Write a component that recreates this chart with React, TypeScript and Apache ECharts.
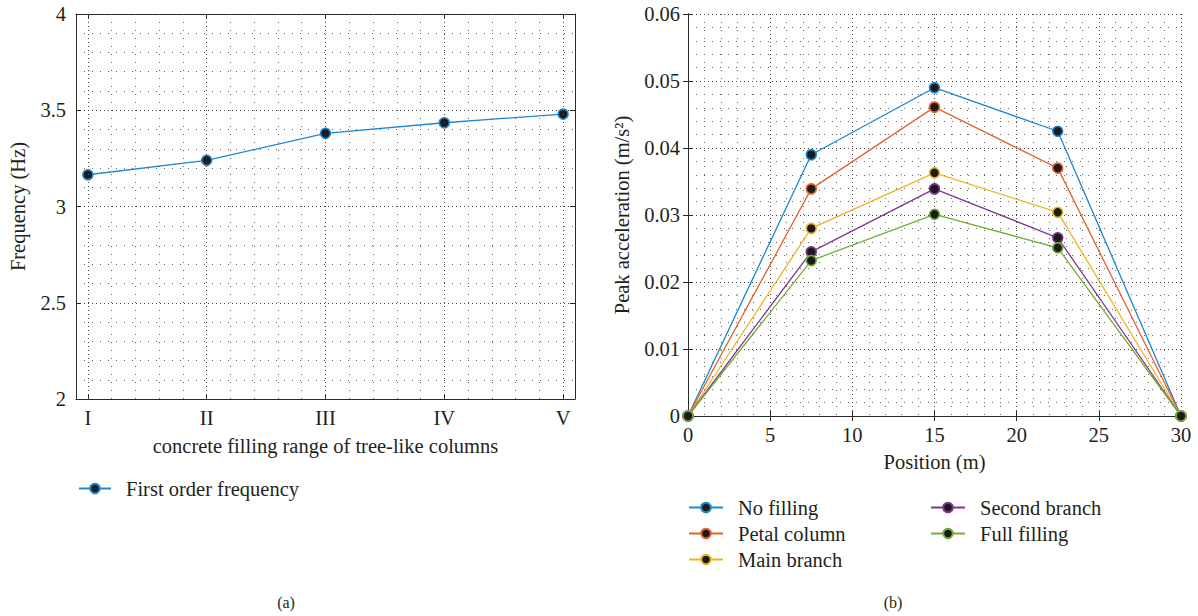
import React, { useEffect, useRef } from "react";
import * as echarts from "echarts";

// ---- Data (a) ----
const categoryPositions = [1, 2, 3, 4, 5];
const categoryLabels = ["I", "II", "III", "IV", "V"];
const firstOrderFrequency = [3.165, 3.24, 3.38, 3.435, 3.48];
const leftMajorGridX = [1, 2, 3, 4, 5];
const leftMinorGridX = [1.2, 1.4, 1.6, 1.8, 2.2, 2.4, 2.6, 2.8, 3.2, 3.4, 3.6, 3.8, 4.2, 4.4, 4.6, 4.8];

// ---- Data (b) ----
const positions = [0, 7.5, 15, 22.5, 30];
const noFilling = [0, 0.039, 0.049, 0.0425, 0];
const petalColumn = [0, 0.0339, 0.0461, 0.037, 0];
const mainBranch = [0, 0.028, 0.0363, 0.0304, 0];
const secondBranch = [0, 0.0245, 0.0339, 0.0266, 0];
const fullFilling = [0, 0.0232, 0.0301, 0.0251, 0];
const seriesNamesB = ["No filling", "Petal column", "Main branch", "Second branch", "Full filling"];
const seriesValuesB = [noFilling, petalColumn, mainBranch, secondBranch, fullFilling];
const seriesColorsB = ["#1f86cf", "#e2622f", "#eeb425", "#803592", "#74ad3a"];

const FONT = "'Liberation Serif', 'DejaVu Serif', serif";
const TEXT = "#231f20";
const AXIS = "#2a2a2a";
const FS = 20.5;
const majorGrid = { color: "#444", width: 1, type: [1, 3] as any };
const minorGrid = { color: "#666", width: 1, type: [1, 7] as any };

export default function App() {
  const ref = useRef<HTMLDivElement>(null);
  useEffect(() => {
    const chart = echarts.init(ref.current!, null, { renderer: "svg" });
    const labelStyle = { color: TEXT, fontFamily: FONT, fontSize: FS };
    const mirrorAxisCommon = {
      axisLine: { show: true, lineStyle: { color: AXIS, width: 1 } },
      axisTick: { show: true, inside: true, length: 5, lineStyle: { color: AXIS } },
      axisLabel: { show: false },
      splitLine: { show: false },
    };
    const marker = (c: string) => ({ color: "#1b1b1b", borderColor: c, borderWidth: 1.6 });

    const option: any = {
      animation: false,
      backgroundColor: "#fff",
      grid: [
        { left: 76, top: 14, width: 499, height: 385 },
        { left: 688, top: 14, width: 493, height: 402 },
      ],
      xAxis: [
        {
          type: "value", gridIndex: 0, min: 0.9, max: 5.1, position: "bottom",
          name: "concrete filling range of tree-like columns",
          nameLocation: "middle", nameGap: 36,
          nameTextStyle: { ...labelStyle },
          axisLine: { show: true, lineStyle: { color: AXIS, width: 1 } },
          axisTick: { show: true, inside: true, length: 5, customValues: categoryPositions, lineStyle: { color: AXIS } },
          axisLabel: {
            ...labelStyle, margin: 8, customValues: categoryPositions,
            formatter: (v: number) => categoryLabels[categoryPositions.indexOf(v)] ?? "",
          },
          splitLine: { show: false },
        },
        {
          type: "value", gridIndex: 0, min: 0.9, max: 5.1, position: "top",
          ...mirrorAxisCommon,
          axisTick: { show: true, inside: true, length: 5, customValues: categoryPositions, lineStyle: { color: AXIS } },
        },
        {
          type: "value", gridIndex: 1, min: 0, max: 30, interval: 5, position: "bottom",
          name: "Position (m)", nameLocation: "middle", nameGap: 35,
          nameTextStyle: { ...labelStyle },
          axisLine: { show: true, lineStyle: { color: AXIS, width: 1 } },
          axisTick: { show: true, inside: true, length: 5, lineStyle: { color: AXIS } },
          axisLabel: { ...labelStyle, margin: 8 },
          splitLine: { show: true, lineStyle: majorGrid },
          minorTick: { show: false, splitNumber: 5 },
          minorSplitLine: { show: true, lineStyle: minorGrid },
        },
        {
          type: "value", gridIndex: 1, min: 0, max: 30, interval: 5, position: "top",
          ...mirrorAxisCommon,
        },
      ],
      yAxis: [
        {
          type: "value", gridIndex: 0, min: 2, max: 4, interval: 0.5, position: "left",
          name: "Frequency (Hz)", nameLocation: "middle", nameGap: 48,
          nameTextStyle: { ...labelStyle },
          axisLine: { show: true, lineStyle: { color: AXIS, width: 1 } },
          axisTick: { show: true, inside: true, length: 5, lineStyle: { color: AXIS } },
          axisLabel: { ...labelStyle, margin: 10 },
          splitLine: { show: true, lineStyle: majorGrid },
          minorTick: { show: false, splitNumber: 5 },
          minorSplitLine: { show: true, lineStyle: minorGrid },
        },
        {
          type: "value", gridIndex: 0, min: 2, max: 4, interval: 0.5, position: "right",
          ...mirrorAxisCommon,
        },
        {
          type: "value", gridIndex: 1, min: 0, max: 0.06, interval: 0.01, position: "left",
          name: "Peak acceleration (m/s²)", nameLocation: "middle", nameGap: 56,
          nameTextStyle: { ...labelStyle },
          axisLine: { show: true, lineStyle: { color: AXIS, width: 1 } },
          axisTick: { show: true, inside: true, length: 5, lineStyle: { color: AXIS } },
          axisLabel: { ...labelStyle, margin: 8 },
          splitLine: { show: true, lineStyle: majorGrid },
          minorTick: { show: false, splitNumber: 5 },
          minorSplitLine: { show: true, lineStyle: minorGrid },
        },
        {
          type: "value", gridIndex: 1, min: 0, max: 0.06, interval: 0.01, position: "right",
          ...mirrorAxisCommon,
        },
      ],
      legend: [
        {
          data: ["First order frequency"], left: 78, top: 478, orient: "vertical", padding: 0,
          itemWidth: 32, itemHeight: 12,
          textStyle: { ...labelStyle, padding: [0, 0, 0, 10] },
        },
        {
          data: seriesNamesB.slice(0, 3), left: 688, top: 497, orient: "vertical", padding: 0,
          itemWidth: 34, itemHeight: 12, itemGap: 5,
          textStyle: { ...labelStyle, padding: [0, 0, 0, 10] },
        },
        {
          data: seriesNamesB.slice(3), left: 930, top: 497, orient: "vertical", padding: 0,
          itemWidth: 34, itemHeight: 12, itemGap: 5,
          textStyle: { ...labelStyle, padding: [0, 0, 0, 10] },
        },
      ],
      graphic: [
        { type: "text", x: 286, y: 602, style: { text: "(a)", font: `16px ${FONT}`, fill: TEXT, textAlign: "center", textVerticalAlign: "middle" } },
        { type: "text", x: 893, y: 602, style: { text: "(b)", font: `16px ${FONT}`, fill: TEXT, textAlign: "center", textVerticalAlign: "middle" } },
      ],
      series: [
        {
          name: "gridA", type: "line", xAxisIndex: 0, yAxisIndex: 0, data: [], z: 0, silent: true,
          markLine: {
            silent: true, symbol: "none", label: { show: false }, animation: false,
            data: [
              ...leftMajorGridX.map((v) => ({ xAxis: v, lineStyle: majorGrid })),
              ...leftMinorGridX.map((v) => ({ xAxis: v, lineStyle: minorGrid })),
            ],
          },
        },
        {
          name: "First order frequency", type: "line", xAxisIndex: 0, yAxisIndex: 0,
          data: categoryPositions.map((x, i) => [x, firstOrderFrequency[i]]),
          symbol: "circle", symbolSize: 10, clip: false,
          lineStyle: { color: "#1f86cf", width: 1.3 },
          itemStyle: marker("#1f86cf"),
          color: "#1f86cf", z: 3,
        },
        ...seriesNamesB.map((name, k) => ({
          name, type: "line", xAxisIndex: 2, yAxisIndex: 2,
          data: positions.map((x, i) => [x, seriesValuesB[k][i]]),
          symbol: "circle", symbolSize: 10, clip: false,
          lineStyle: { color: seriesColorsB[k], width: 1.3 },
          itemStyle: marker(seriesColorsB[k]),
          color: seriesColorsB[k], z: 3 + k,
        })),
      ],
    };
    chart.setOption(option);
    return () => chart.dispose();
  }, []);
  return (
    <div
      ref={ref}
      style={{ position: "fixed", left: 0, top: 0, width: 1198, height: 616, background: "#fff" }}
    />
  );
}
